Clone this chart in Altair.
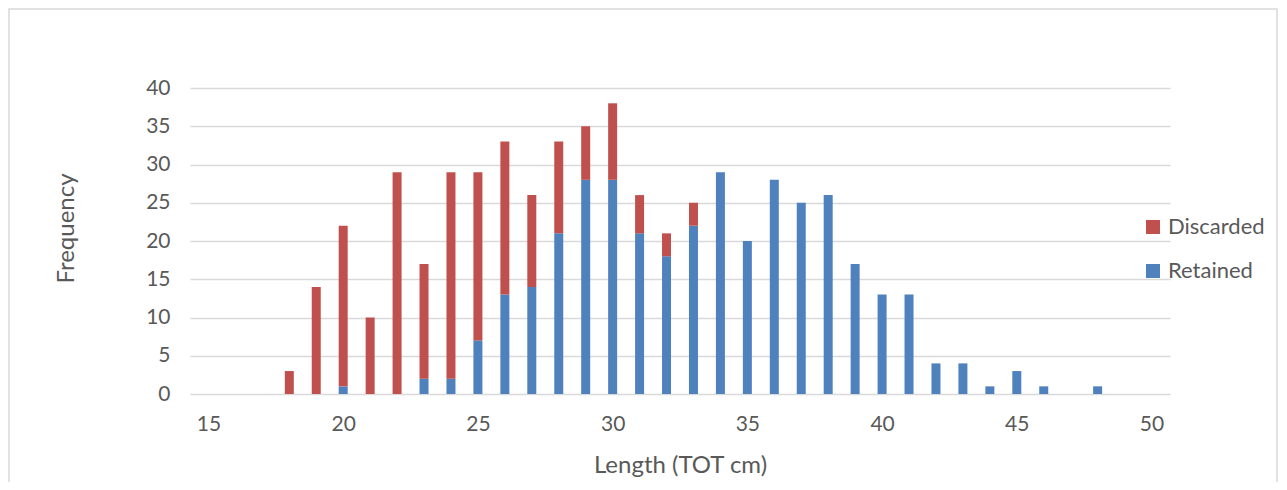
import altair as alt
import pandas as pd

lengths = list(range(18, 49))
retained = [0, 0, 1, 0, 0, 2, 2, 7, 13, 14, 21, 28, 28, 21, 18, 22, 29, 20, 28, 25,
            26, 17, 13, 13, 4, 4, 1, 3, 1, 0, 1]
discarded = [3, 14, 21, 10, 29, 15, 27, 22, 20, 12, 12, 7, 10, 5, 3, 3] + [0] * 15
series = ["Discarded", "Retained"]
colors = ["#C0504D", "#4F81BD"]
x_ticks = [15, 20, 25, 30, 35, 40, 45, 50]
y_ticks = [0, 5, 10, 15, 20, 25, 30, 35, 40]

rows = []
for L, r, d in zip(lengths, retained, discarded):
    rows.append({"Length": L, "Series": "Retained", "Count": r, "ord": 0})
    rows.append({"Length": L, "Series": "Discarded", "Count": d, "ord": 1})
df = pd.DataFrame(rows)

FONT = "Lato"
GREY = "#595959"

bars = alt.Chart(df).mark_bar(size=9).encode(
    x=alt.X("Length:Q",
            scale=alt.Scale(domain=[14.5, 50.5], nice=False, zero=False),
            axis=alt.Axis(values=x_ticks, grid=False, ticks=False, domain=False,
                          title="Length (TOT cm)", labelFontSize=21, labelColor=GREY,
                          labelFont=FONT, labelPadding=30, labelBaseline="middle",
                          titleFont=FONT, titleFontSize=24, titleColor=GREY,
                          titleFontWeight="normal", titleY=71, titleBaseline="middle")),
    y=alt.Y("Count:Q", stack="zero",
            scale=alt.Scale(domain=[0, 40], nice=False),
            axis=alt.Axis(values=y_ticks, grid=True, gridColor="#D9D9D9", gridWidth=1.5,
                          ticks=False, domain=False, title="Frequency",
                          labelFontSize=21, labelColor=GREY, labelFont=FONT,
                          labelPadding=20, titleFont=FONT, titleFontSize=24,
                          titleColor=GREY, titleFontWeight="normal",
                          titleX=-124, titleY=140, titleAngle=-90,
                          titleAlign="center", titleBaseline="middle")),
    color=alt.Color("Series:N",
                    scale=alt.Scale(domain=series, range=colors),
                    legend=alt.Legend(title=None, orient="none", legendX=952, legendY=128,
                                      symbolType="square", symbolSize=196,
                                      symbolStrokeWidth=0, labelFontSize=22,
                                      labelFont=FONT, labelColor=GREY, rowPadding=22,
                                      labelOffset=4, padding=0)),
    order=alt.Order("ord:Q"),
)

border = alt.Chart(pd.DataFrame({"a": [0]})).mark_rect(
    fill="transparent", stroke="#D9D9D9", strokeWidth=1.5
).encode(
    x=alt.value(-181),
    x2=alt.value(1087),
    y=alt.value(-79),
    y2=alt.value(420),
)

chart = alt.layer(border, bars).properties(
    width=980, height=306,
    background="white",
    autosize=alt.AutoSizeParams(type="none"),
    padding={"left": 182, "top": 80, "right": 109, "bottom": 88},
).configure_view(strokeWidth=0, stroke="transparent")

chart.save("out.html", embed_options={"renderer": "svg", "actions": False})
